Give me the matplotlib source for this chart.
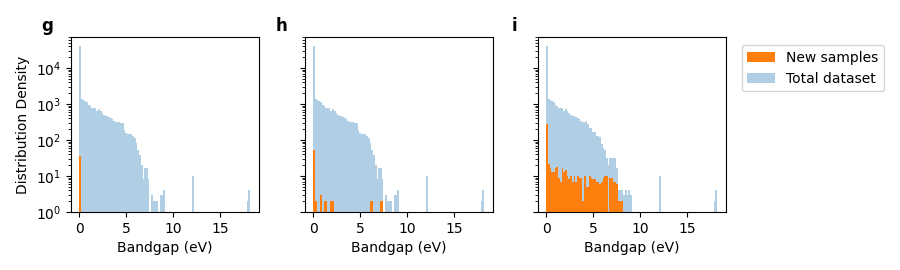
import numpy as np
import matplotlib
matplotlib.use('Agg')
import matplotlib.pyplot as plt

# Histogram bins: 100 equal bins over the bandgap range (eV).
BAND_MIN, BAND_MAX, N_BINS = 0.0, 18.2, 100

# Counts per bin.  Total dataset for panels g and h.
total_gh = [
    41000, 1380, 1290, 1200, 1150, 930, 870, 780, 780, 770,
    650, 720, 650, 560, 490, 470, 460, 430, 400, 380,
    340, 320, 315, 310, 295, 290, 190, 155, 148, 148,
    148, 130, 115, 83, 52, 38, 20, 8, 17, 17,
    8, 0, 3, 2, 2, 2, 0, 3, 3, 4,
    0, 0, 0, 0, 0, 0, 0, 0, 0, 0,
    0, 0, 0, 0, 0, 0, 10, 0, 0, 0,
    0, 0, 0, 0, 0, 0, 0, 0, 0, 0,
    0, 0, 0, 0, 0, 0, 0, 0, 0, 0,
    0, 0, 0, 0, 0, 0, 0, 0, 2, 4,
]

# Total dataset for panel i (more weight in the 6-9 eV tail).
total_i = [
    41000, 1380, 1290, 1200, 1150, 930, 870, 780, 780, 770,
    650, 720, 650, 560, 490, 470, 460, 430, 400, 380,
    340, 320, 315, 340, 280, 215, 215, 165, 165, 130,
    130, 120, 78, 60, 52, 32, 20, 32, 32, 32,
    32, 17, 4, 4, 4, 3, 4, 3, 4, 3,
    0, 0, 0, 0, 0, 0, 0, 0, 0, 0,
    0, 0, 0, 0, 0, 0, 10, 0, 0, 0,
    0, 0, 0, 0, 0, 0, 0, 0, 0, 0,
    0, 0, 0, 0, 0, 0, 0, 0, 0, 0,
    0, 0, 0, 0, 0, 0, 0, 0, 2, 4,
]

# New samples per panel.
new_g = [35] + [0] * 99

new_h = [0] * 100
for k, v in {0: 53, 1: 2, 4: 3, 6: 2, 7: 2, 10: 2, 11: 2,
             33: 2, 34: 2, 39: 2, 40: 2}.items():
    new_h[k] = v

new_i = [
    278, 21, 17, 13, 13, 17, 18, 9, 7, 17,
    13, 15, 10, 8, 10, 7, 10, 7, 10, 9,
    9, 2, 10, 5, 5, 10, 9, 8, 8, 7,
    7, 6, 7, 9, 10, 10, 0, 9, 9, 7,
    7, 6, 2, 2, 2,
] + [0] * 55

PANELS = [('g', new_g, total_gh), ('h', new_h, total_gh), ('i', new_i, total_i)]
LEFTS = [0.0786, 0.3386, 0.5974]

edges = np.linspace(BAND_MIN, BAND_MAX, N_BINS + 1)

fig = plt.figure(figsize=(9, 2.7), dpi=100)
axes = []
for index, (letter, new, total) in enumerate(PANELS):
    ax = fig.add_axes([LEFTS[index], 0.2148, 0.2089, 0.647],
                      sharey=axes[0] if axes else None)
    axes.append(ax)
    ax.hist(edges[:-1], bins=edges, weights=total, color='tab:blue',
            alpha=0.35, log=True, label='Total dataset')
    ax.hist(edges[:-1], bins=edges, weights=new, color='tab:orange',
            log=True, label='New samples')
    ax.set_xlabel('Bandgap (eV)')
    ax.set_xticks([0, 5, 10, 15])
    ax.text(-0.125, 1.065, letter, transform=ax.transAxes, fontsize=12,
            fontweight='bold', ha='center', va='center')
    if index:
        ax.tick_params(axis='y', labelleft=False)

axes[0].set_ylim(1, 10 ** 4.85)
axes[0].set_ylabel('Distribution Density')

handles, labels = axes[2].get_legend_handles_labels()
fig.legend(handles[::-1], labels[::-1], loc='upper left',
           bbox_to_anchor=(0.824, 0.832), borderaxespad=0)

fig.savefig('out.png', dpi=100)
